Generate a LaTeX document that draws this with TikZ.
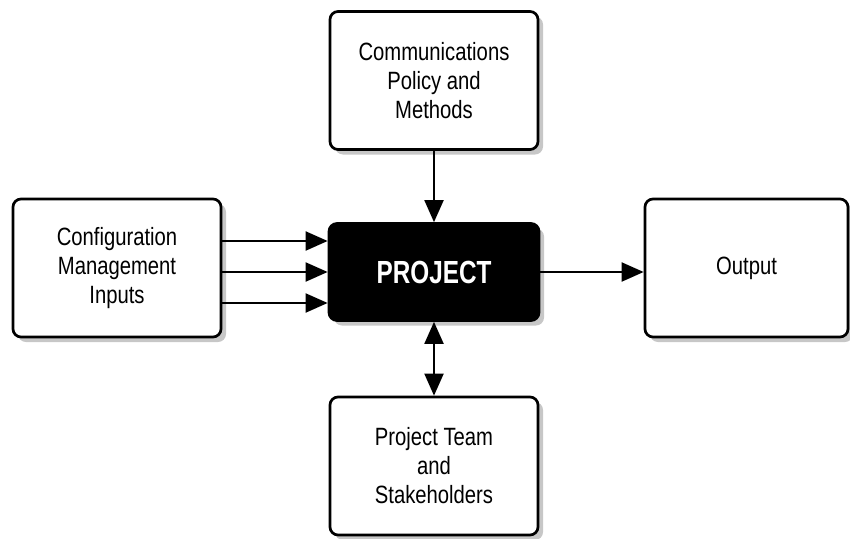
\documentclass[tikz,border=0pt]{standalone}
\usepackage{fontspec}
\setmainfont{Liberation Sans}[FakeStretch=0.81]
\newfontfamily\headfont{Liberation Sans}[FakeStretch=0.76]
\usetikzlibrary{arrows.meta,shadows}

\tikzset{
  panel/.style={draw=black, line width=2.7pt, fill=white, rounded corners=8pt,
    minimum width=208pt, minimum height=138pt, inner sep=0pt, align=center,
    font=\fontsize{25}{29}\selectfont,
    drop shadow={shadow xshift=5pt, shadow yshift=-5pt, fill=black!22, opacity=1}},
  core/.style={panel, fill=black, text=white, minimum width=210pt, minimum height=97pt,
    font=\headfont\bfseries\fontsize{32}{36}\selectfont},
  arr/.style={line width=2pt, -{Triangle[length=22pt,width=19pt]}},
  biarr/.style={line width=2pt, {Triangle[length=22pt,width=19pt]}-{Triangle[length=22pt,width=19pt]}}
}

\begin{document}
\begin{tikzpicture}[x=1pt,y=-1pt]
  \useasboundingbox (0,0) rectangle (850,538);

  % boxes
  \node[panel] (comm) at (434,80.5) {Communications\\Policy and\\Methods};
  \node[panel] (conf) at (117,268) {Configuration\\Management\\Inputs};
  \node[panel, minimum width=203pt] (out) at (746.5,268) {Output};
  \node[panel] (team) at (434,466) {Project Team\\and\\Stakeholders};
  \node[core] (proj) at (434,272) {PROJECT};

  % inputs feeding the project
  \path ([yshift=31pt]proj.west) coordinate (inA)
        (proj.west) coordinate (inB)
        ([yshift=-31pt]proj.west) coordinate (inC);
  \draw[arr] (inA -| conf.east) -- (inA);
  \draw[arr] (inB -| conf.east) -- (inB);
  \draw[arr] (inC -| conf.east) -- (inC);

  % policy into project, project to output, project with team
  \draw[arr] (comm.south) -- (comm.south |- proj.north);
  \draw[arr] (proj.east) -- (proj.east -| out.west);
  \draw[biarr] (proj.south) -- (proj.south |- team.north);
\end{tikzpicture}
\end{document}
